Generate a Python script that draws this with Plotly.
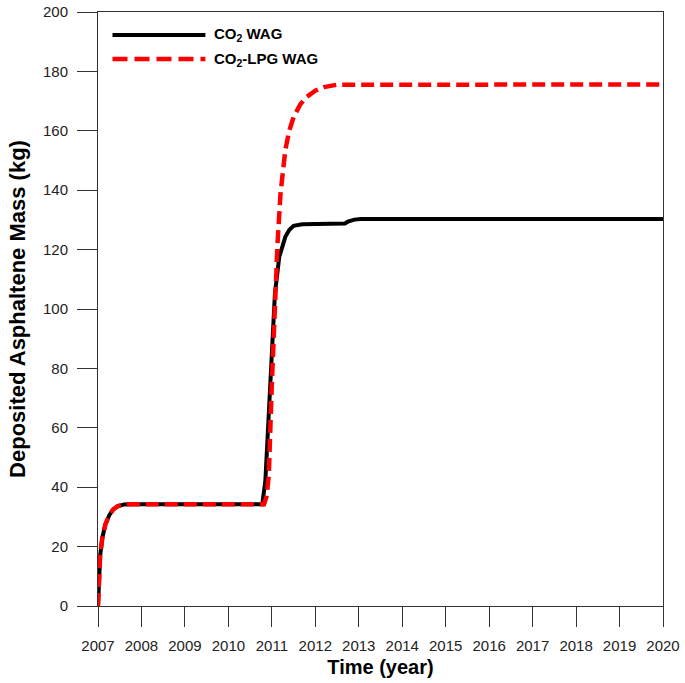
import plotly.graph_objects as go

# ---- data ----
years_ticks = list(range(2007, 2021))
y_ticks = list(range(0, 201, 20))

co2_t = [2007.0, 2007.02, 2007.05, 2007.1, 2007.17, 2007.26, 2007.35, 2007.45, 2007.6, 2007.8,
         2010.78, 2010.85, 2010.95, 2011.07, 2011.17, 2011.24, 2011.31, 2011.4, 2011.5, 2011.7,
         2012.6, 2012.68, 2012.75, 2012.9, 2013.05, 2020.0]
co2_v = [0, 10, 17, 23, 27.5, 30.6, 32.5, 33.6, 34.2, 34.3,
         34.3, 42, 72, 105, 117.5, 121.5, 124.3, 126.6, 128, 128.5,
         128.5, 128.8, 129.4, 130.1, 130.3, 130.3]

lpg_t = [2007.0, 2007.02, 2007.05, 2007.1, 2007.17, 2007.26, 2007.35, 2007.45, 2007.6, 2007.8,
         2010.82, 2010.88, 2010.93, 2011.0, 2011.08, 2011.13, 2011.2, 2011.31, 2011.4, 2011.5,
         2011.65, 2011.8, 2012.0, 2012.2, 2012.5, 2020.0]
lpg_v = [0, 10, 17, 23, 27.5, 30.6, 32.5, 33.6, 34.2, 34.3,
         34.3, 37, 44, 75, 107, 122, 139, 153.5, 160, 164.6,
         168.8, 171.4, 173.5, 174.7, 175.5, 175.6]

series_names = ["CO<sub>2</sub> WAG", "CO<sub>2</sub>-LPG WAG"]

FONT = "Liberation Sans, Arial, sans-serif"

fig = go.Figure()
fig.add_trace(go.Scatter(x=co2_t, y=co2_v, mode="lines", name=series_names[0],
                         line=dict(color="black", width=4), showlegend=False))
fig.add_trace(go.Scatter(x=lpg_t, y=lpg_v, mode="lines", name=series_names[1],
                         line=dict(color="#ff0000", width=4.5, dash="13px,6px"), showlegend=False))

# manual legend (long line samples as in the reference)
L, R, T, B = 97.5, 663.0, 12.0, 606.0
def px(x):
    return (x - L) / (R - L)
def py(y):
    return (B - y) / (B - T)

fig.add_shape(type="line", xref="paper", yref="paper", x0=px(112), x1=px(205), y0=py(35), y1=py(35),
              line=dict(color="black", width=4))
fig.add_shape(type="line", xref="paper", yref="paper", x0=px(112), x1=px(205), y0=py(59), y1=py(59),
              line=dict(color="#ff0000", width=4.5, dash="15px,7px"))
for name, yy in zip(series_names, [35, 59]):
    fig.add_annotation(x=px(212), y=py(yy), xref="paper", yref="paper", text="<b>" + name + "</b>",
                       showarrow=False, xanchor="left", yanchor="middle",
                       font=dict(family=FONT, size=15, color="black"))

fig.update_layout(
    width=685, height=683,
    margin=dict(l=97.5, r=22, t=12, b=77),
    paper_bgcolor="white", plot_bgcolor="white",
    font=dict(family=FONT, color="#222"),
    xaxis=dict(range=[2007, 2020], tickvals=years_ticks, ticktext=[str(v) for v in years_ticks],
               ticks="outside", ticklen=20, tickwidth=1, tickcolor="#333",
               showline=True, linecolor="#333", linewidth=1, mirror=True,
               showgrid=False, zeroline=False, ticklabelstandoff=6, automargin=False,
               tickfont=dict(family=FONT, size=15, color="#222"),
               title=dict(text="<b>Time (year)</b>", font=dict(family=FONT, size=20, color="black"), standoff=6)),
    yaxis=dict(range=[0, 200], tickvals=y_ticks,
               ticks="outside", ticklen=20, tickwidth=1, tickcolor="#333",
               showline=True, linecolor="#333", linewidth=1, mirror=True,
               showgrid=False, zeroline=False, ticklabelstandoff=6, automargin=False,
               tickfont=dict(family=FONT, size=15, color="#222"),
               title=dict(text="<b>Deposited Asphaltene Mass (kg)</b>", font=dict(family=FONT, size=22, color="black"), standoff=11)),
)

fig.write_html("out.html", config={"displayModeBar": False},
               post_script="document.body.style.margin='0';document.body.style.padding='0';")
